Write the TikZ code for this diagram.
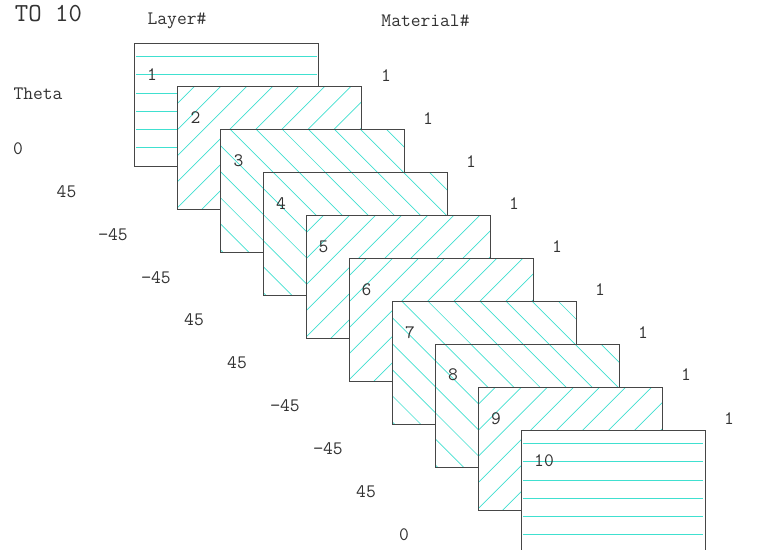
\documentclass[tikz,border=0pt]{standalone}
\definecolor{hatchc}{RGB}{64,224,208}
\definecolor{edgec}{RGB}{70,70,70}
\definecolor{textc}{RGB}{50,50,50}
\tikzset{
  lbl/.style={font=\ttfamily\fontsize{19}{19}\selectfont,text=textc,inner sep=0pt,anchor=center},
  titlelbl/.style={font=\ttfamily\fontsize{26}{26}\selectfont,text=textc,inner sep=0pt,anchor=west},
  layerbox/.style={fill=white,inner sep=0pt,anchor=north west,minimum width=183.6pt,minimum height=122.8pt},
  hatchflat/.style={draw=hatchc,line width=0.9pt},
  hatchdiag/.style={draw=hatchc,line width=0.7pt},
  edgeline/.style={draw=edgec,line width=1.1pt}
}
\begin{document}
\begin{tikzpicture}[x=1pt,y=-1pt]
\useasboundingbox (0,0) rectangle (767,549);
\clip (0,0) rectangle (767,549);
\foreach \i/\a in {1/0,2/45,3/-45,4/-45,5/45,6/45,7/-45,8/-45,9/45,10/0}{
  \pgfmathsetmacro{\lx}{134.7+42.95*(\i-1)}
  \pgfmathsetmacro{\ly}{43.7+43*(\i-1)}
  \node[layerbox] (L\i) at (\lx,\ly) {};
  \begin{scope}
    \clip (L\i.north west) rectangle (L\i.south east);
    \begin{scope}[shift={(\lx,\ly)}]
      \ifnum\a=0
        \foreach \v in {12.3,30.8,49.5,67.7,86,104}{
          \draw[hatchflat] (1.5,\v) -- (182,\v);
        }
      \fi
      \ifnum\a=45
        \foreach \k in {0,...,12}{
          \pgfmathsetmacro{\s}{16.6+26.05*\k}
          \draw[hatchdiag] (\s,0) -- (\s-130,130);
        }
      \fi
      \ifnum\a=-45
        \foreach \k in {-5,...,6}{
          \pgfmathsetmacro{\s}{10+26.05*\k}
          \draw[hatchdiag] (\s,0) -- (\s+130,130);
        }
      \fi
    \end{scope}
  \end{scope}
  \draw[edgeline] (L\i.north west) rectangle (L\i.south east);
}
% title and headers
\node[titlelbl] (title) at (-12,14) {1 TO  10};
\node[lbl] (hlayer) at (177,21) {Layer\#};
\node[lbl] (hmat) at (425.5,21) {Material\#};
\node[lbl] (htheta) at (38,94) {Theta};
% layer numbers
\node[lbl] (n1) at (152,75) {1};
\node[lbl] (n2) at (195.5,118) {2};
\node[lbl] (n3) at (238.5,161) {3};
\node[lbl] (n4) at (281,204) {4};
\node[lbl] (n5) at (323.5,246.5) {5};
\node[lbl] (n6) at (366.5,289.5) {6};
\node[lbl] (n7) at (410,332.5) {7};
\node[lbl] (n8) at (453,375) {8};
\node[lbl] (n9) at (496,418.5) {9};
\node[lbl] (n10) at (544,461) {10};
% material numbers
\node[lbl] (m1) at (386,76) {1};
\node[lbl] (m2) at (428,118.5) {1};
\node[lbl] (m3) at (471,162) {1};
\node[lbl] (m4) at (514,204) {1};
\node[lbl] (m5) at (557,247) {1};
\node[lbl] (m6) at (600,290) {1};
\node[lbl] (m7) at (643,333) {1};
\node[lbl] (m8) at (686,375) {1};
\node[lbl] (m9) at (729,418.5) {1};
% theta values
\node[lbl] (t1) at (18,149) {0};
\node[lbl] (t2) at (66.5,192) {45};
\node[lbl] (t3) at (113,235) {−45};
\node[lbl] (t4) at (156,278) {−45};
\node[lbl] (t5) at (194,320) {45};
\node[lbl] (t6) at (237,363) {45};
\node[lbl] (t7) at (285,406) {−45};
\node[lbl] (t8) at (328,449) {−45};
\node[lbl] (t9) at (366,492) {45};
\node[lbl] (t10) at (404,535) {0};
\end{tikzpicture}
\end{document}
